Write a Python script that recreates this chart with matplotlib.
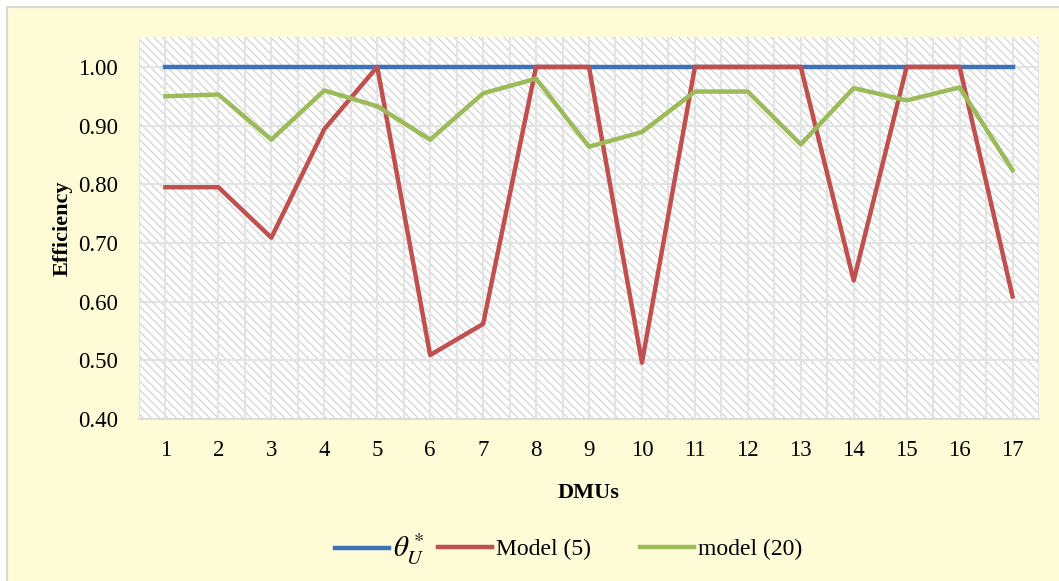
import numpy as np
import matplotlib
matplotlib.use('Agg')
import matplotlib.pyplot as plt
from matplotlib.patches import Rectangle
from matplotlib.ticker import MultipleLocator, FormatStrFormatter

plt.rcParams['font.family'] = ['Liberation Serif', 'DejaVu Serif']
plt.rcParams['mathtext.fontset'] = 'stix'
plt.rcParams['hatch.linewidth'] = 0.9
plt.rcParams['hatch.color'] = '#d4d4d4'

dmus = np.arange(1, 18)
theta_u = [1.00] * 17
model5 = [0.795, 0.795, 0.709, 0.894, 1.00, 0.509, 0.562, 1.00, 1.00,
          0.496, 1.00, 1.00, 1.00, 0.636, 1.00, 1.00, 0.609]
model20 = [0.950, 0.953, 0.876, 0.960, 0.933, 0.876, 0.955, 0.980, 0.864,
           0.889, 0.958, 0.958, 0.868, 0.964, 0.943, 0.965, 0.824]

W, H = 1059, 581
fig = plt.figure(figsize=(W / 100, H / 100), dpi=100)
fig.patch.set_facecolor('white')

# yellow chart area with a grey frame
fig.patches.append(Rectangle((7 / W, -0.1), 1.2, 1 - 7 / H + 0.1,
                             transform=fig.transFigure, facecolor='#fefbd7',
                             edgecolor='#d9d9d9', linewidth=1.5, zorder=-10))

ax = fig.add_axes([139 / W, 1 - 419 / H, 900 / W, (419 - 37) / H])
ax.set_facecolor('white')
ax.patch.set_hatch('\\\\\\\\')
ax.patch.set_edgecolor('#d4d4d4')
ax.patch.set_linewidth(0)

ax.plot(dmus, theta_u, color='#3e73b8', lw=3.2, label=r'$\theta_U^*$', zorder=3)
ax.plot(dmus, model5, color='#c0504d', lw=3.2, label='Model (5)', zorder=4)
ax.plot(dmus, model20, color='#9bbb59', lw=3.2, label='model (20)', zorder=5)

ax.set_xlim(0.5, 17.5)
ax.set_ylim(0.40, 1.051)
ax.set_xticks(dmus)
ax.xaxis.set_minor_locator(MultipleLocator(0.5))
ax.set_yticks(np.arange(0.4, 1.001, 0.1))
ax.yaxis.set_major_formatter(FormatStrFormatter('%.2f'))

ax.grid(True, which='both', axis='x', color='#e3e3e3', lw=1.5, zorder=1)
ax.grid(True, which='major', axis='y', color='#e3e3e3', lw=1.5, zorder=1)
ax.set_axisbelow(True)
ax.tick_params(which='both', length=0, labelsize=16.5)
ax.tick_params(axis='x', pad=15)
ax.tick_params(axis='y', pad=15)

for side in ['top', 'right', 'left']:
    ax.spines[side].set_visible(False)
ax.spines['bottom'].set_color('#dcdcdc')
ax.spines['bottom'].set_linewidth(1.5)

ax.set_xlabel('DMUs', fontsize=16, fontweight='bold', labelpad=16)
ax.set_ylabel('Efficiency', fontsize=16, fontweight='bold', labelpad=4)

# one legend per entry so the gaps between them can be set
handles, labels = ax.get_legend_handles_labels()
for h, lab, x0 in zip(handles, labels, [335, 438, 640]):
    leg = fig.legend([h], [lab], loc='center left',
                     bbox_to_anchor=(x0 / W, 1 - 549 / H), frameon=False,
                     fontsize=17, handlelength=2.3, handletextpad=0.15,
                     borderpad=0, borderaxespad=0)
    if lab.startswith('$'):
        leg.get_texts()[0].set_fontsize(21)

fig.savefig('out.png', dpi=100, facecolor=fig.get_facecolor())
